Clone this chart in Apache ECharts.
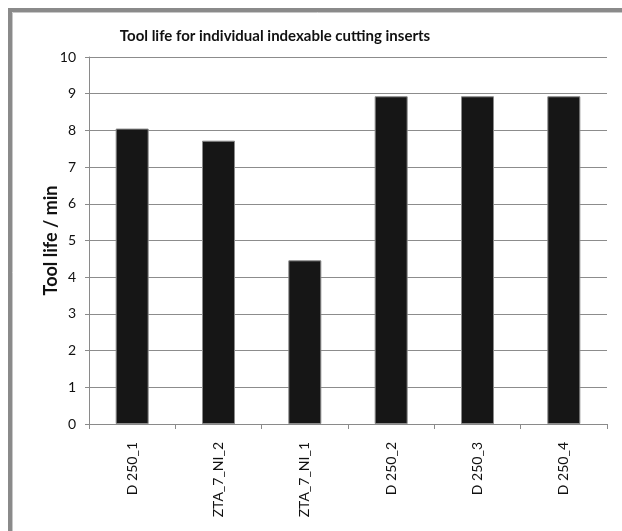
<!DOCTYPE html>
<html>
<head>
<meta charset="utf-8">
<style>
  html, body { margin: 0; padding: 0; background: #ffffff; }
  #chart { width: 622px; height: 531px; }
</style>
<script src="https://cdn.jsdelivr.net/npm/echarts@6/dist/echarts.min.js"></script>
</head>
<body>
<div id="chart"></div>
<script>
// Insert names along the category axis
const inserts = ['D 250_1', 'ZTA_7_NI_2', 'ZTA_7_NI_1', 'D 250_2', 'D 250_3', 'D 250_4'];
// Measured tool life per insert, minutes
const toolLife = [8.05, 7.72, 4.46, 8.93, 8.93, 8.93];
// Value axis range
const yMin = 0;
const yMax = 10;
const yStep = 1;

const chart = echarts.init(document.getElementById('chart'), null, { renderer: 'canvas' });

const labelFont = 'Lato, "Open Sans", "DejaVu Sans", sans-serif';

chart.setOption({
  backgroundColor: '#ffffff',
  animation: false,
  title: {
    text: 'Tool life for individual indexable cutting inserts',
    left: 270,
    top: 24,
    textAlign: 'center',
    textStyle: { fontFamily: labelFont, fontSize: 15, fontWeight: 'bold', color: '#111' }
  },
  graphic: [{
    type: 'group',
    silent: true,
    children: [
      { type: 'rect', shape: { x: 10, y: 10, width: 700, height: 600 },
        style: { fill: 'none', stroke: '#8a8a8a', lineWidth: 4 } },
      { type: 'rect', shape: { x: 12.5, y: 12.5, width: 700, height: 600 },
        style: { fill: 'none', stroke: '#c8c8c8', lineWidth: 1 } }
    ]
  }],
  grid: { left: 89, right: 15, top: 57, bottom: 107, containLabel: false },
  xAxis: {
    type: 'category',
    data: inserts,
    axisLine: { show: true, lineStyle: { color: '#8a8a8a', width: 1 } },
    axisTick: { show: true, length: 5, alignWithLabel: false, lineStyle: { color: '#8a8a8a' } },
    axisLabel: {
      rotate: 90, interval: 0, margin: 18,
      fontFamily: labelFont, fontSize: 14, color: '#111'
    }
  },
  yAxis: {
    type: 'value',
    min: yMin, max: yMax, interval: yStep,
    name: 'Tool life / min',
    nameLocation: 'middle',
    nameGap: 29,
    nameMoveOverlap: false,
    nameRotate: 90,
    nameTextStyle: { fontFamily: labelFont, fontSize: 18, fontWeight: 'bold', color: '#111' },
    axisLine: { show: true, lineStyle: { color: '#8a8a8a', width: 1 } },
    axisTick: { show: true, length: 4, inside: false, lineStyle: { color: '#8a8a8a' } },
    axisLabel: { margin: 13, fontFamily: labelFont, fontSize: 14, color: '#111' },
    splitLine: { show: true, lineStyle: { color: '#8c8c8c', width: 1 } }
  },
  series: [{
    type: 'bar',
    data: toolLife,
    barWidth: 33,
    itemStyle: { color: '#161616', borderColor: '#8a8a8a', borderWidth: 1 }
  }]
});
</script>
</body>
</html>
